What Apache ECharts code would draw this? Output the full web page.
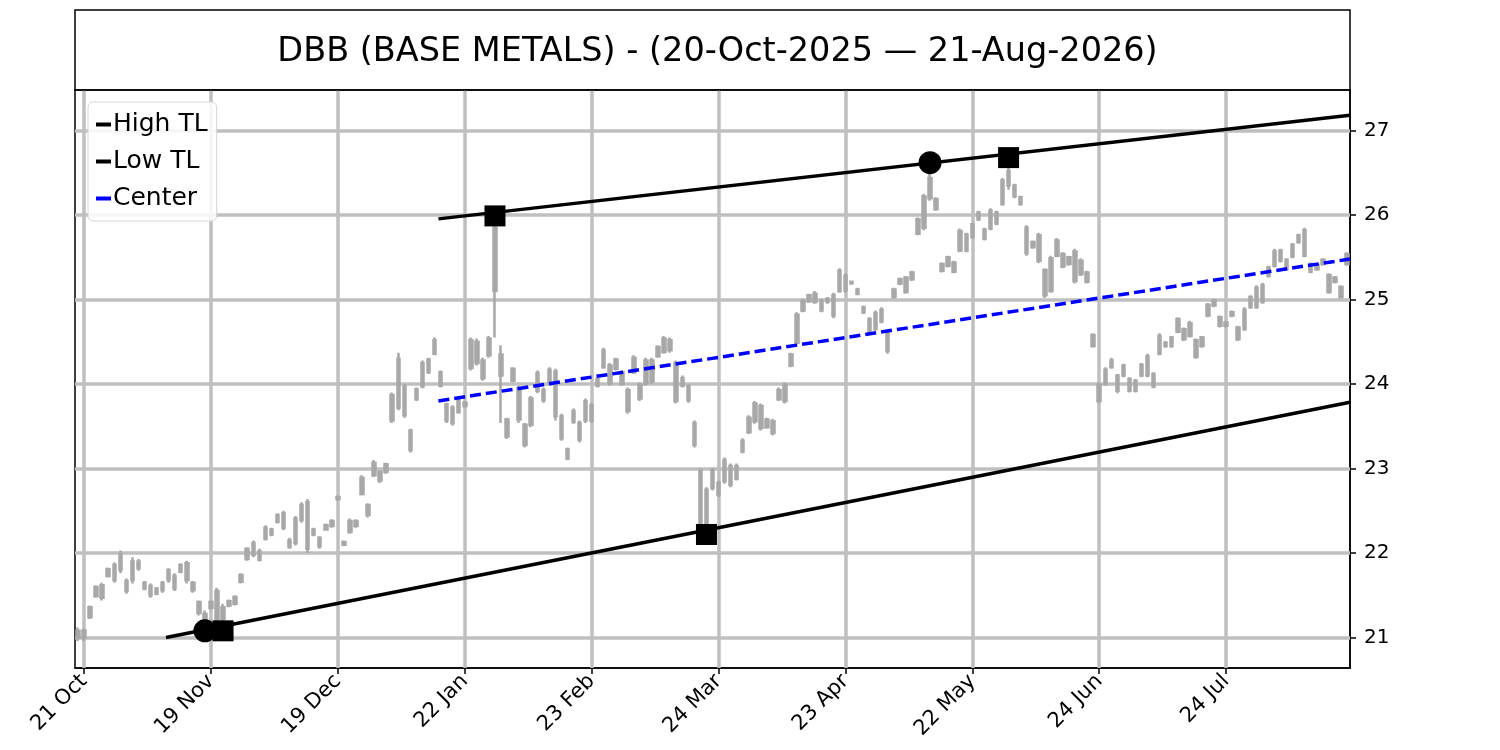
<!DOCTYPE html>
<html>
<head>
<meta charset="utf-8">
<script src="https://cdn.jsdelivr.net/npm/echarts@6/dist/echarts.min.js"></script>
<style>
html,body{margin:0;padding:0;background:#fff;}
#chart{width:1500px;height:750px;}
</style>
</head>
<body>
<div id="chart"></div>
<script>
// ---------- DATA ----------
const titleText = 'DBB (BASE METALS) - (20-Oct-2025 \u2014 21-Aug-2026)';

const dates = [
"2025-10-20","2025-10-21","2025-10-22","2025-10-23","2025-10-24","2025-10-27","2025-10-28","2025-10-29","2025-10-30","2025-10-31",
"2025-11-03","2025-11-04","2025-11-05","2025-11-06","2025-11-07","2025-11-10","2025-11-11","2025-11-12","2025-11-13","2025-11-14",
"2025-11-17","2025-11-18","2025-11-19","2025-11-20","2025-11-21","2025-11-24","2025-11-25","2025-11-26","2025-11-28",
"2025-12-01","2025-12-02","2025-12-03","2025-12-04","2025-12-05","2025-12-08","2025-12-09","2025-12-10","2025-12-11","2025-12-12",
"2025-12-15","2025-12-16","2025-12-17","2025-12-18","2025-12-19","2025-12-22","2025-12-23","2025-12-24","2025-12-26","2025-12-29","2025-12-30","2025-12-31",
"2026-01-02","2026-01-05","2026-01-06","2026-01-07","2026-01-08","2026-01-09","2026-01-12","2026-01-13","2026-01-14","2026-01-15","2026-01-16",
"2026-01-20","2026-01-21","2026-01-22","2026-01-23","2026-01-26","2026-01-27","2026-01-28","2026-01-29","2026-01-30",
"2026-02-02","2026-02-03","2026-02-04","2026-02-05","2026-02-06","2026-02-09","2026-02-10","2026-02-11","2026-02-12","2026-02-13",
"2026-02-17","2026-02-18","2026-02-19","2026-02-20","2026-02-23","2026-02-24","2026-02-25","2026-02-26","2026-02-27",
"2026-03-02","2026-03-03","2026-03-04","2026-03-05","2026-03-06","2026-03-09","2026-03-10","2026-03-11","2026-03-12","2026-03-13",
"2026-03-16","2026-03-17","2026-03-18","2026-03-19","2026-03-20","2026-03-23","2026-03-24","2026-03-25","2026-03-26","2026-03-27","2026-03-30","2026-03-31",
"2026-04-01","2026-04-02","2026-04-06","2026-04-07","2026-04-08","2026-04-09","2026-04-10","2026-04-13","2026-04-14","2026-04-15","2026-04-16","2026-04-17",
"2026-04-20","2026-04-21","2026-04-22","2026-04-23","2026-04-24","2026-04-27","2026-04-28","2026-04-29","2026-04-30",
"2026-05-01","2026-05-04","2026-05-05","2026-05-06","2026-05-07","2026-05-08","2026-05-11","2026-05-12","2026-05-13","2026-05-14","2026-05-15",
"2026-05-18","2026-05-19","2026-05-20","2026-05-21","2026-05-22","2026-05-26","2026-05-27","2026-05-28","2026-05-29",
"2026-06-01","2026-06-02","2026-06-03","2026-06-04","2026-06-05","2026-06-08","2026-06-09","2026-06-10","2026-06-11","2026-06-12",
"2026-06-15","2026-06-16","2026-06-17","2026-06-18","2026-06-22","2026-06-23","2026-06-24","2026-06-25","2026-06-26","2026-06-29","2026-06-30",
"2026-07-01","2026-07-02","2026-07-06","2026-07-07","2026-07-08","2026-07-09","2026-07-10","2026-07-13","2026-07-14","2026-07-15","2026-07-16","2026-07-17",
"2026-07-20","2026-07-21","2026-07-22","2026-07-23","2026-07-24","2026-07-27","2026-07-28","2026-07-29","2026-07-30","2026-07-31",
"2026-08-03","2026-08-04","2026-08-05","2026-08-06","2026-08-07","2026-08-10","2026-08-11","2026-08-12","2026-08-13","2026-08-14",
"2026-08-17","2026-08-18","2026-08-19","2026-08-20","2026-08-21"
];

// [open, close, low, high]
const ohlc = [
[21.00,21.08,20.96,21.12],[21.08,21.00,20.96,21.11],[21.24,21.36,21.22,21.38],[21.49,21.60,21.47,21.62],[21.62,21.47,21.44,21.65],
[21.73,21.81,21.71,21.83],[21.68,21.86,21.65,21.89],[21.80,21.98,21.76,22.03],[21.67,21.55,21.52,21.70],[21.68,21.90,21.64,21.95],
[21.90,21.82,21.79,21.93],[21.65,21.58,21.56,21.67],[21.61,21.50,21.47,21.64],[21.52,21.58,21.50,21.60],[21.56,21.65,21.53,21.67],
[21.68,21.80,21.65,21.82],[21.73,21.58,21.55,21.76],[21.78,21.86,21.76,21.88],[21.88,21.68,21.64,21.91],[21.65,21.56,21.53,21.67],
[21.42,21.29,21.26,21.44],[21.28,21.14,21.08,21.32],[21.35,21.42,21.33,21.44],[21.22,21.55,21.17,21.59],[21.36,21.22,21.08,21.40],
[21.38,21.43,21.36,21.45],[21.40,21.48,21.38,21.50],[21.66,21.74,21.64,21.76],[21.93,22.05,21.91,22.07],[22.12,21.98,21.95,22.15],
[21.92,22.02,21.90,22.05],[22.17,22.30,22.15,22.33],[22.22,22.28,22.20,22.30],[22.37,22.45,22.35,22.47],[22.47,22.30,22.27,22.50],
[22.07,22.15,22.05,22.18],[22.12,22.41,22.09,22.44],[22.39,22.57,22.36,22.60],[22.60,22.05,22.00,22.64],[22.22,22.28,22.20,22.30],
[22.18,22.08,22.05,22.20],[22.28,22.33,22.27,22.35],[22.32,22.38,22.30,22.40],[22.64,22.66,22.62,22.68],[22.10,22.13,22.09,22.15],
[22.25,22.38,22.23,22.41],[22.32,22.38,22.30,22.40],[22.70,22.89,22.68,22.92],[22.57,22.45,22.42,22.59],[22.92,23.07,22.90,23.10],
[22.96,22.86,22.83,22.98],[22.96,23.05,22.94,23.07],[23.57,23.87,23.54,23.90],[23.72,24.30,23.69,24.37],[23.97,23.63,23.60,24.00],
[23.45,23.22,23.19,23.47],[23.82,23.94,23.80,23.96],[23.97,24.25,23.95,24.28],[24.14,24.29,24.12,24.31],[24.36,24.52,24.34,24.55],
[24.14,23.98,23.96,24.16],[23.76,23.57,23.54,23.78],[23.54,23.72,23.51,23.75],[23.67,23.82,23.65,23.84],[23.74,23.78,23.72,23.80],
[24.19,24.52,24.16,24.55],[24.50,24.25,24.22,24.54],[24.07,24.28,24.04,24.31],[24.34,24.54,24.31,24.57],[25.10,25.85,24.55,26.00],
[24.35,24.10,23.54,24.46],[23.58,23.38,23.35,23.60],[24.04,24.18,24.02,24.20],[23.95,23.58,23.54,23.98],[23.52,23.28,23.25,23.54],
[23.52,23.83,23.49,23.86],[23.92,24.13,23.89,24.16],[23.93,23.81,23.78,23.96],[24.00,24.17,23.98,24.20],[24.15,23.62,23.57,24.18],
[23.62,23.36,23.33,23.65],[23.23,23.12,23.10,23.25],[23.55,23.68,23.53,23.71],[23.54,23.34,23.31,23.57],[23.57,23.80,23.54,23.83],
[23.75,23.57,23.54,23.78],[23.98,24.06,23.96,24.08],[24.20,24.40,24.18,24.43],[24.22,24.01,23.98,24.25],[24.18,24.29,24.16,24.31],
[24.14,24.00,23.98,24.16],[23.93,23.68,23.65,23.96],[24.14,24.31,24.12,24.34],[23.99,23.83,23.80,24.02],[24.01,24.28,23.98,24.31],
[24.03,24.28,24.00,24.31],[24.33,24.44,24.31,24.46],[24.38,24.54,24.36,24.57],[24.52,24.40,24.37,24.55],[24.25,23.80,23.77,24.28],
[24.07,23.98,23.96,24.10],[23.97,23.81,23.78,24.00],[23.54,23.28,23.25,23.57],[22.97,22.35,22.30,23.00],[22.30,22.75,22.23,22.78],
[22.77,22.98,22.74,23.01],[22.83,22.69,22.66,22.86],[22.85,23.10,22.82,23.13],[23.03,22.81,22.78,23.06],[22.88,23.03,22.86,23.06],
[23.20,23.33,23.18,23.36],[23.43,23.60,23.41,23.63],[23.56,23.77,23.53,23.80],[23.74,23.48,23.45,23.77],[23.49,23.58,23.47,23.60],
[23.56,23.42,23.39,23.59],[23.82,23.93,23.80,23.96],[23.80,23.99,23.77,24.02],[24.22,24.35,24.20,24.37],[24.49,24.82,24.46,24.85],
[24.87,24.98,24.85,25.01],[24.98,25.05,24.96,25.07],[25.07,24.97,24.95,25.10],[24.98,24.87,24.85,25.01],[24.97,25.01,24.95,25.03],
[25.05,24.81,24.78,25.08],[25.10,25.34,25.08,25.37],[25.28,25.11,25.08,25.31],[25.19,25.21,25.18,25.22],[25.12,25.07,25.05,25.14],
[24.91,24.85,24.83,24.93],[24.77,24.62,24.60,24.79],[24.65,24.84,24.63,24.87],[24.88,24.74,24.72,24.91],[24.60,24.39,24.36,24.63],
[25.03,25.12,25.01,25.14],[25.19,25.24,25.17,25.26],[25.26,25.09,25.07,25.28],[25.24,25.32,25.22,25.34],[25.78,25.95,25.76,25.97],
[25.85,26.22,25.82,26.25],[26.20,26.44,26.17,26.62],[26.19,26.07,26.05,26.21],[25.42,25.34,25.32,25.44],[25.40,25.50,25.38,25.52],
[25.44,25.33,25.31,25.46],[25.58,25.81,25.56,25.84],[25.77,25.58,25.56,25.79],[25.74,25.89,25.72,25.91],[25.95,26.03,25.93,26.05],
[25.83,25.72,25.70,25.85],[25.84,26.05,25.82,26.08],[26.03,25.90,25.88,26.05],[26.13,26.41,26.11,26.44],[26.35,26.52,26.30,26.68],
[26.35,26.22,26.20,26.37],[26.21,26.13,26.11,26.23],[25.85,25.55,25.52,25.88],[25.62,25.68,25.60,25.70],[25.76,25.46,25.43,25.79],
[25.35,25.05,25.02,25.37],[25.10,25.49,25.08,25.52],[25.52,25.70,25.50,25.73],[25.54,25.39,25.37,25.56],[25.42,25.50,25.40,25.52],
[25.57,25.22,25.19,25.60],[25.30,25.46,25.28,25.49],[25.32,25.21,25.19,25.34],[24.58,24.45,24.43,24.60],[23.80,23.99,23.77,24.02],
[24.00,24.17,23.98,24.20],[24.20,24.28,24.18,24.31],[24.10,23.92,23.89,24.12],[24.10,24.22,24.08,24.24],[24.06,23.92,23.90,24.08],
[23.92,24.04,23.90,24.06],[24.10,24.23,24.08,24.25],[24.10,24.33,24.08,24.36],[24.12,23.97,23.95,24.14],[24.36,24.57,24.34,24.60],
[24.45,24.49,24.43,24.51],[24.45,24.55,24.43,24.57],[24.62,24.77,24.60,24.79],[24.65,24.53,24.51,24.67],[24.57,24.72,24.55,24.75],
[24.52,24.32,24.30,24.54],[24.45,24.55,24.43,24.57],[24.81,24.94,24.79,24.96],[24.93,24.99,24.91,25.01],[24.79,24.69,24.67,24.81],
[24.69,24.73,24.67,24.75],[24.81,24.85,24.79,24.87],[24.67,24.53,24.51,24.69],[24.65,24.88,24.63,24.91],[24.91,25.03,24.89,25.05],
[24.91,25.14,24.89,25.17],[24.97,25.17,24.95,25.20],[25.28,25.38,25.26,25.40],[25.40,25.57,25.38,25.60],[25.58,25.46,25.44,25.60],
[25.47,25.36,25.34,25.49],[25.51,25.65,25.49,25.67],[25.68,25.76,25.66,25.78],[25.82,25.52,25.50,25.85],[25.42,25.33,25.31,25.44],
[25.36,25.41,25.34,25.43],[25.42,25.47,25.40,25.49],[25.29,25.09,25.07,25.31],[25.21,25.26,25.19,25.28],[25.15,25.03,25.01,25.17],
[25.42,25.54,25.40,25.56]
];

const tickLabels = ['21 Oct','19 Nov','19 Dec','22 Jan','23 Feb','24 Mar','23 Apr','22 May','24 Jun','24 Jul'];
const tickIndex  = [1,22,43,64,85,106,127,148,169,190];
const yTicks     = [21,22,23,24,25,26,27];

// trend lines: [index, value] end points
const highTL = [[59.64,25.955],[210.5,27.18]];
const lowTL  = [[14.57,21.00],[210.5,23.785]];
const center = [[59.64,23.80],[210.5,25.48]];

// pivots
const highPivotIdx   = [69,141,154];
const highPivotVal   = [25.99,26.62,26.68];
const highPivotShape = ['rect','circle','rect'];
const lowPivotIdx    = [21,24,104];
const lowPivotVal    = [21.08,21.08,22.22];
const lowPivotShape  = ['circle','rect','rect'];

// ---------- CHART ----------
const months = ['Jan','Feb','Mar','Apr','May','Jun','Jul','Aug','Sep','Oct','Nov','Dec'];
function fmt(d){ return parseInt(d.slice(8,10),10) + ' ' + months[parseInt(d.slice(5,7),10)-1]; }
const catLabels = dates.map(fmt);
const FONT = 'DejaVu Sans';
const GRIDC = '#bfbfbf';

const pivotData = [];
highPivotIdx.forEach((x,i)=>pivotData.push({value:[x,highPivotVal[i]],symbol:highPivotShape[i],symbolSize:highPivotShape[i]==='rect'?21:23}));
lowPivotIdx.forEach((x,i)=>pivotData.push({value:[x,lowPivotVal[i]],symbol:lowPivotShape[i],symbolSize:lowPivotShape[i]==='rect'?21:23}));

const gridLines = [];
tickIndex.forEach(v=>gridLines.push({xAxis:v}));
yTicks.forEach(v=>gridLines.push({yAxis:v}));

const chart = echarts.init(document.getElementById('chart'), null, {renderer:'canvas'});
chart.setOption({
  animation:false,
  backgroundColor:'#fff',
  textStyle:{fontFamily:FONT},
  title:{
    text:titleText, left:712.5, top:30, textAlign:'center',
    textStyle:{fontFamily:FONT,fontSize:33.5,fontWeight:'normal',color:'#000'}
  },
  graphic:[{
    type:'rect', z:10,
    shape:{x:75,y:10,width:1275,height:80},
    style:{fill:'none',stroke:'#000',lineWidth:1.5}
  }],
  legend:{
    data:['High TL','Low TL','Center'],
    orient:'vertical', left:88, top:102, z:20,
    icon:'rect', itemWidth:15, itemHeight:4, itemGap:12,
    padding:[10,9,10,8],
    backgroundColor:'rgba(255,255,255,0.85)',
    borderColor:'#d6d6d6', borderWidth:1, borderRadius:5,
    selectedMode:false,
    textStyle:{fontFamily:FONT,fontSize:25,color:'#000',padding:[0,0,0,-3]}
  },
  grid:{left:75,right:150,top:90,bottom:82,show:true,borderColor:'#000',borderWidth:1.5,backgroundColor:'transparent'},
  xAxis:[{
    type:'category', data:catLabels, boundaryGap:true,
    axisLine:{show:true,onZero:false,lineStyle:{color:'#000',width:1.5}},
    axisTick:{show:true,alignWithLabel:true,length:6,lineStyle:{color:'#000',width:1.5},
      interval:(i,v)=>tickLabels.indexOf(v)>=0},
    axisLabel:{show:true,rotate:45,margin:10,fontFamily:FONT,fontSize:21,color:'#000',
      interval:(i,v)=>tickLabels.indexOf(v)>=0},
    splitLine:{show:false}
  },{
    type:'value', min:-0.5, max:210.5, show:false, gridIndex:0,
    axisLine:{onZero:false}
  }],
  yAxis:[{
    type:'value', position:'right', min:20.64, max:27.48, scale:true,
    axisLine:{show:true,onZero:false,lineStyle:{color:'#000',width:1.5}},
    axisTick:{show:true,length:6,lineStyle:{color:'#000',width:1.5},customValues:yTicks},
    axisLabel:{show:true,margin:14,fontFamily:FONT,fontSize:20,color:'#000',customValues:yTicks},
    splitLine:{show:false}
  }],
  series:[
    {
      name:'grid', type:'line', xAxisIndex:1, yAxisIndex:0, data:[], z:1, silent:true,
      markLine:{silent:true, z:1, symbol:['none','none'], label:{show:false}, animation:false,
        lineStyle:{color:GRIDC,width:3.5,type:'solid'}, emphasis:{disabled:true},
        data:gridLines}
    },
    {
      name:'DBB', type:'candlestick', xAxisIndex:0, yAxisIndex:0, data:ohlc, z:2,
      barWidth:3,
      itemStyle:{color:'#a8a8a8',color0:'#a8a8a8',borderColor:'#a8a8a8',borderColor0:'#a8a8a8',borderWidth:2.5}
    },
    {
      name:'High TL', type:'line', xAxisIndex:1, yAxisIndex:0, data:highTL, z:3,
      symbol:'none', lineStyle:{color:'#000',width:3.5}, itemStyle:{color:'#000'}
    },
    {
      name:'Low TL', type:'line', xAxisIndex:1, yAxisIndex:0, data:lowTL, z:3,
      symbol:'none', lineStyle:{color:'#000',width:3.5}, itemStyle:{color:'#000'}
    },
    {
      name:'Center', type:'line', xAxisIndex:1, yAxisIndex:0, data:center, z:3,
      symbol:'none', lineStyle:{color:'#0000ff',width:3.5,type:[11,5]}, itemStyle:{color:'#0000ff'}
    },
    {
      name:'pivots', type:'scatter', xAxisIndex:1, yAxisIndex:0, data:pivotData, z:4,
      itemStyle:{color:'#000',opacity:1}
    }
  ]
});
</script>
</body>
</html>
